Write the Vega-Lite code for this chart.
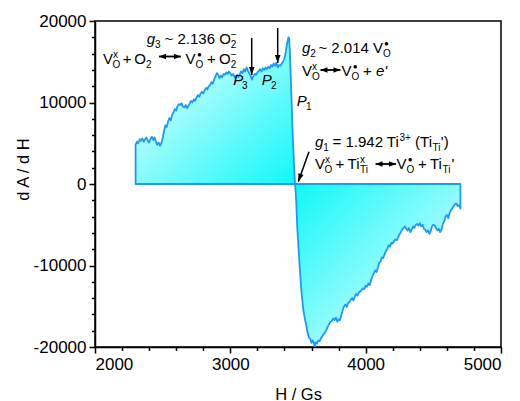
{
"$schema":"https://vega.github.io/schema/vega-lite/v6.json",
"width":406,"height":326,
"autosize":{"type":"none"},
"padding":{"left":95,"top":21,"right":19,"bottom":54},
"background":"white",
"config":{
 "view":{"stroke":"black","strokeWidth":1.5},
 "axis":{"domainColor":"black","domainWidth":1.5,"tickColor":"black","tickWidth":1.5,"grid":false,"labelOverlap":false,
  "labelFont":"Liberation Sans","labelFontSize":17,"labelColor":"black","labelPadding":3,
  "titleFont":"Liberation Sans","titleFontSize":16.5,"titleFontWeight":"normal","titleColor":"black"},
 "text":{"font":"Liberation Sans","color":"black","align":"left","baseline":"alphabetic"}
},
"resolve":{"axis":{"x":"independent","y":"independent"}},
"datasets":{
 "curve":[
  {"H":2300,"dAdH":4800},{"H":2310,"dAdH":5200},{"H":2320,"dAdH":5000},{"H":2330,"dAdH":5500},{"H":2340,"dAdH":5300},
  {"H":2350,"dAdH":5600},{"H":2360,"dAdH":5200},{"H":2370,"dAdH":5500},{"H":2380,"dAdH":5700},{"H":2390,"dAdH":5300},
  {"H":2400,"dAdH":5100},{"H":2410,"dAdH":5500},{"H":2420,"dAdH":5800},{"H":2430,"dAdH":5400},{"H":2440,"dAdH":5700},
  {"H":2450,"dAdH":5200},{"H":2460,"dAdH":4800},{"H":2470,"dAdH":5100},{"H":2480,"dAdH":4700},{"H":2490,"dAdH":5000},
  {"H":2500,"dAdH":5600},{"H":2510,"dAdH":6500},{"H":2520,"dAdH":7200},{"H":2530,"dAdH":7000},{"H":2540,"dAdH":7700},
  {"H":2550,"dAdH":8100},{"H":2560,"dAdH":7800},{"H":2570,"dAdH":8500},{"H":2580,"dAdH":8800},{"H":2590,"dAdH":9200},
  {"H":2600,"dAdH":9000},{"H":2610,"dAdH":9600},{"H":2620,"dAdH":9800},{"H":2630,"dAdH":9700},{"H":2640,"dAdH":9900},
  {"H":2650,"dAdH":9500},{"H":2660,"dAdH":9400},{"H":2670,"dAdH":9700},{"H":2680,"dAdH":9300},{"H":2690,"dAdH":9600},
  {"H":2700,"dAdH":9900},{"H":2710,"dAdH":10200},{"H":2720,"dAdH":10000},{"H":2730,"dAdH":10400},{"H":2740,"dAdH":10200},
  {"H":2750,"dAdH":10600},{"H":2760,"dAdH":10900},{"H":2770,"dAdH":10700},{"H":2780,"dAdH":11100},{"H":2790,"dAdH":11300},
  {"H":2800,"dAdH":11100},{"H":2810,"dAdH":11500},{"H":2820,"dAdH":11800},{"H":2830,"dAdH":11600},{"H":2840,"dAdH":12000},
  {"H":2850,"dAdH":12100},{"H":2860,"dAdH":12500},{"H":2870,"dAdH":12300},{"H":2880,"dAdH":12800},{"H":2890,"dAdH":13200},
  {"H":2900,"dAdH":13600},{"H":2910,"dAdH":13400},{"H":2920,"dAdH":13000},{"H":2930,"dAdH":13300},{"H":2940,"dAdH":13100},
  {"H":2950,"dAdH":13500},{"H":2960,"dAdH":13400},{"H":2970,"dAdH":13700},{"H":2980,"dAdH":13500},{"H":2990,"dAdH":13800},
  {"H":3000,"dAdH":13600},{"H":3010,"dAdH":13300},{"H":3020,"dAdH":13500},{"H":3030,"dAdH":13200},{"H":3040,"dAdH":13000},
  {"H":3050,"dAdH":13400},{"H":3060,"dAdH":13100},{"H":3070,"dAdH":13500},{"H":3080,"dAdH":13800},{"H":3090,"dAdH":13600},
  {"H":3100,"dAdH":14100},{"H":3110,"dAdH":13800},{"H":3120,"dAdH":14300},{"H":3130,"dAdH":13900},{"H":3140,"dAdH":13600},
  {"H":3150,"dAdH":13300},{"H":3160,"dAdH":12800},{"H":3170,"dAdH":13200},{"H":3180,"dAdH":13500},{"H":3190,"dAdH":13400},
  {"H":3200,"dAdH":13700},{"H":3210,"dAdH":13900},{"H":3220,"dAdH":14100},{"H":3230,"dAdH":13800},{"H":3240,"dAdH":14200},
  {"H":3250,"dAdH":14000},{"H":3260,"dAdH":14300},{"H":3270,"dAdH":14100},{"H":3280,"dAdH":14400},{"H":3290,"dAdH":14200},
  {"H":3300,"dAdH":14600},{"H":3310,"dAdH":14400},{"H":3320,"dAdH":14800},{"H":3330,"dAdH":14500},{"H":3340,"dAdH":14900},
  {"H":3350,"dAdH":14300},{"H":3360,"dAdH":14600},{"H":3370,"dAdH":14500},{"H":3380,"dAdH":14800},{"H":3390,"dAdH":15000},
  {"H":3400,"dAdH":15400},{"H":3410,"dAdH":16200},{"H":3420,"dAdH":17300},{"H":3430,"dAdH":18000},{"H":3435,"dAdH":17800},
  {"H":3440,"dAdH":16200},{"H":3450,"dAdH":11500},{"H":3460,"dAdH":6500},{"H":3470,"dAdH":2500},{"H":3478,"dAdH":0},
  {"H":3485,"dAdH":-1500},{"H":3490,"dAdH":-3500},{"H":3495,"dAdH":-5500},{"H":3503,"dAdH":-7700},{"H":3510,"dAdH":-9500},
  {"H":3520,"dAdH":-12000},{"H":3527,"dAdH":-13500},{"H":3540,"dAdH":-15500},{"H":3552,"dAdH":-16700},{"H":3560,"dAdH":-17200},
  {"H":3570,"dAdH":-18200},{"H":3580,"dAdH":-18800},{"H":3590,"dAdH":-19000},{"H":3600,"dAdH":-19500},{"H":3610,"dAdH":-19200},
  {"H":3620,"dAdH":-19700},{"H":3625,"dAdH":-19900},{"H":3630,"dAdH":-19400},{"H":3640,"dAdH":-19600},{"H":3650,"dAdH":-19200},
  {"H":3660,"dAdH":-19300},{"H":3670,"dAdH":-18900},{"H":3680,"dAdH":-18700},{"H":3690,"dAdH":-18400},{"H":3700,"dAdH":-18200},
  {"H":3710,"dAdH":-17900},{"H":3720,"dAdH":-17500},{"H":3730,"dAdH":-17200},{"H":3740,"dAdH":-16900},{"H":3750,"dAdH":-16800},
  {"H":3760,"dAdH":-16500},{"H":3770,"dAdH":-16700},{"H":3780,"dAdH":-16400},{"H":3790,"dAdH":-16900},{"H":3800,"dAdH":-16600},
  {"H":3810,"dAdH":-16700},{"H":3820,"dAdH":-16100},{"H":3830,"dAdH":-15500},{"H":3840,"dAdH":-15000},{"H":3850,"dAdH":-14800},
  {"H":3860,"dAdH":-15100},{"H":3870,"dAdH":-14600},{"H":3880,"dAdH":-14500},{"H":3890,"dAdH":-14200},{"H":3900,"dAdH":-14000},
  {"H":3910,"dAdH":-14300},{"H":3920,"dAdH":-13800},{"H":3930,"dAdH":-13500},{"H":3940,"dAdH":-13700},{"H":3950,"dAdH":-13300},
  {"H":3960,"dAdH":-13200},{"H":3970,"dAdH":-13000},{"H":3980,"dAdH":-12800},{"H":3990,"dAdH":-12900},{"H":4000,"dAdH":-12500},
  {"H":4010,"dAdH":-12600},{"H":4020,"dAdH":-12200},{"H":4030,"dAdH":-12400},{"H":4040,"dAdH":-11800},{"H":4050,"dAdH":-11300},
  {"H":4060,"dAdH":-11000},{"H":4070,"dAdH":-10600},{"H":4080,"dAdH":-10800},{"H":4090,"dAdH":-10300},{"H":4100,"dAdH":-9700},
  {"H":4110,"dAdH":-9500},{"H":4120,"dAdH":-9000},{"H":4130,"dAdH":-9100},{"H":4140,"dAdH":-8600},{"H":4150,"dAdH":-8200},
  {"H":4160,"dAdH":-8000},{"H":4170,"dAdH":-7500},{"H":4180,"dAdH":-7700},{"H":4190,"dAdH":-7200},{"H":4200,"dAdH":-7300},
  {"H":4210,"dAdH":-7000},{"H":4220,"dAdH":-6800},{"H":4230,"dAdH":-6900},{"H":4240,"dAdH":-6500},{"H":4250,"dAdH":-6200},
  {"H":4260,"dAdH":-5900},{"H":4270,"dAdH":-5600},{"H":4280,"dAdH":-5400},{"H":4290,"dAdH":-5200},{"H":4300,"dAdH":-5500},
  {"H":4310,"dAdH":-5700},{"H":4320,"dAdH":-5400},{"H":4330,"dAdH":-5900},{"H":4340,"dAdH":-5600},{"H":4350,"dAdH":-5200},
  {"H":4360,"dAdH":-5400},{"H":4370,"dAdH":-5000},{"H":4380,"dAdH":-4900},{"H":4390,"dAdH":-5100},{"H":4400,"dAdH":-4800},
  {"H":4410,"dAdH":-5200},{"H":4420,"dAdH":-5000},{"H":4430,"dAdH":-5500},{"H":4440,"dAdH":-5600},{"H":4450,"dAdH":-5900},
  {"H":4460,"dAdH":-5700},{"H":4470,"dAdH":-6100},{"H":4480,"dAdH":-5800},{"H":4490,"dAdH":-5200},{"H":4500,"dAdH":-5000},
  {"H":4510,"dAdH":-5100},{"H":4520,"dAdH":-5400},{"H":4530,"dAdH":-5700},{"H":4540,"dAdH":-5500},{"H":4550,"dAdH":-5900},
  {"H":4560,"dAdH":-5600},{"H":4570,"dAdH":-4900},{"H":4580,"dAdH":-4600},{"H":4590,"dAdH":-4000},{"H":4600,"dAdH":-3800},
  {"H":4610,"dAdH":-4200},{"H":4620,"dAdH":-3600},{"H":4630,"dAdH":-3200},{"H":4640,"dAdH":-3000},{"H":4650,"dAdH":-2700},
  {"H":4660,"dAdH":-2500},{"H":4670,"dAdH":-2400},{"H":4680,"dAdH":-2700},{"H":4690,"dAdH":-2600},{"H":4700,"dAdH":-3000}
 ],
 "txt":[
  {"x":2382,"y":17239,"t":"g","k":"i"},
  {"x":2443,"y":17239,"t":"3","k":"b"},
  {"x":2514,"y":17239,"t":"~ 2.136 O","k":"n"},
  {"x":3003,"y":17239,"t":"2","k":"b"},
  {"x":3003,"y":17239,"t":"−","k":"p"},
  {"x":2059,"y":14785,"t":"V","k":"n"},
  {"x":2133,"y":14785,"t":"x","k":"p"},
  {"x":2129,"y":14785,"t":"O","k":"b"},
  {"x":2205,"y":14785,"t":"+","k":"n"},
  {"x":2290,"y":14785,"t":"O","k":"n"},
  {"x":2377,"y":14785,"t":"2","k":"b"},
  {"x":2669,"y":14785,"t":"V","k":"n"},
  {"x":2753,"y":14785,"t":"●","k":"d"},
  {"x":2743,"y":14785,"t":"O","k":"b"},
  {"x":2828,"y":14785,"t":"+","k":"n"},
  {"x":2916,"y":14785,"t":"O","k":"n"},
  {"x":3003,"y":14785,"t":"2","k":"b"},
  {"x":3003,"y":14785,"t":"−","k":"p"},
  {"x":3530,"y":16074,"t":"g","k":"i"},
  {"x":3591,"y":16074,"t":"2","k":"b"},
  {"x":3651,"y":16074,"t":"~ 2.014 V","k":"n"},
  {"x":4136,"y":16074,"t":"●","k":"d"},
  {"x":4128,"y":16074,"t":"O","k":"b"},
  {"x":3530,"y":13252,"t":"V","k":"n"},
  {"x":3603,"y":13252,"t":"x","k":"p"},
  {"x":3603,"y":13252,"t":"O","k":"b"},
  {"x":3821,"y":13252,"t":"V","k":"n"},
  {"x":3905,"y":13252,"t":"●","k":"d"},
  {"x":3895,"y":13252,"t":"O","k":"b"},
  {"x":3980,"y":13252,"t":"+","k":"n"},
  {"x":4076,"y":13252,"t":"e'","k":"i"},
  {"x":3626,"y":4577,"t":"g","k":"i"},
  {"x":3687,"y":4577,"t":"1","k":"b"},
  {"x":3755,"y":4577,"t":"= 1.942 Ti","k":"n"},
  {"x":4250,"y":4577,"t":"3+","k":"p"},
  {"x":4365,"y":4577,"t":"(Ti","k":"n"},
  {"x":4494,"y":4577,"t":"Ti","k":"b"},
  {"x":4555,"y":4577,"t":"')","k":"n"},
  {"x":3626,"y":1840,"t":"V","k":"n"},
  {"x":3700,"y":1840,"t":"x","k":"p"},
  {"x":3696,"y":1840,"t":"O","k":"b"},
  {"x":3777,"y":1840,"t":"+","k":"n"},
  {"x":3866,"y":1840,"t":"Ti","k":"n"},
  {"x":3958,"y":1840,"t":"x","k":"p"},
  {"x":3958,"y":1840,"t":"Ti","k":"b"},
  {"x":4228,"y":1840,"t":"V","k":"n"},
  {"x":4311,"y":1840,"t":"●","k":"d"},
  {"x":4302,"y":1840,"t":"O","k":"b"},
  {"x":4387,"y":1840,"t":"+","k":"n"},
  {"x":4475,"y":1840,"t":"Ti","k":"n"},
  {"x":4568,"y":1840,"t":"Ti","k":"b"},
  {"x":4634,"y":1840,"t":"'","k":"n"},
  {"x":3022,"y":12147,"t":"P","k":"i"},
  {"x":3086,"y":12147,"t":"3","k":"b"},
  {"x":3232,"y":12147,"t":"P","k":"i"},
  {"x":3300,"y":12147,"t":"2","k":"b"},
  {"x":3490,"y":9571,"t":"P","k":"i"},
  {"x":3559,"y":9571,"t":"1","k":"b"}
 ],
 "arr":[
  {"x":3158,"y":17914,"x2":3158,"y2":13374,"d":"v"},
  {"x":3350,"y":19141,"x2":3350,"y2":14847,"d":"v"},
  {"x":3581,"y":3963,"x2":3502,"y2":282,"d":"s"}
 ],
 "darr":[
  {"x":2473,"x2":2635,"y":15644},
  {"x":3666,"x2":3814,"y":13988},
  {"x":4073,"x2":4224,"y":2454}
 ]
},
"layer":[
 {"data":{"name":"curve"},"transform":[{"filter":"datum.H <= 3478"}],
  "mark":{"type":"area","stroke":"#1E9BF0","strokeWidth":1.8,"strokeJoin":"round",
   "fill":{"gradient":"linear","x1":0,"y1":0,"x2":1,"y2":1,"stops":[{"offset":0,"color":"#ffffff"},{"offset":1,"color":"#10f8f8"}]}},
  "encoding":{
   "x":{"field":"H","type":"quantitative","scale":{"domain":[2000,5000],"nice":false},
    "axis":{"title":"H / Gs","titlePadding":14,"orient":"bottom","values":[2000,3000,4000,5000],"format":"d","tickSize":6}},
   "y":{"field":"dAdH","type":"quantitative","scale":{"domain":[-20000,20000],"nice":false},
    "axis":{"title":"d A / d H","orient":"left","titleX":-64,"titleY":148,"values":[-20000,-10000,0,10000,20000],
     "labelExpr":"toString(datum.value)","tickSize":6}}
  }},
 {"data":{"name":"curve"},"transform":[{"filter":"datum.H >= 3478"}],
  "mark":{"type":"area","stroke":"#1E9BF0","strokeWidth":1.8,"strokeJoin":"round",
   "fill":{"gradient":"linear","x1":0,"y1":0,"x2":1,"y2":1,"stops":[{"offset":0,"color":"#10f8f8"},{"offset":1,"color":"#ffffff"}]}},
  "encoding":{
   "x":{"field":"H","type":"quantitative","scale":{"domain":[2000,5000],"nice":false},
    "axis":{"title":null,"orient":"bottom","labels":false,"domain":false,"tickSize":3.5,
     "values":[2200,2400,2600,2800,3200,3400,3600,3800,4200,4400,4600,4800]}},
   "y":{"field":"dAdH","type":"quantitative","scale":{"domain":[-20000,20000],"nice":false},
    "axis":{"title":null,"orient":"left","labels":false,"domain":false,"tickSize":3.5,
     "values":[-18000,-16000,-14000,-12000,-8000,-6000,-4000,-2000,2000,4000,6000,8000,12000,14000,16000,18000]}}
  }},
 {"data":{"name":"arr"},"mark":{"type":"rule","color":"black","strokeWidth":1.5},
  "encoding":{
   "x":{"field":"x","type":"quantitative","scale":{"domain":[2000,5000],"nice":false},"axis":null},
   "y":{"field":"y","type":"quantitative","scale":{"domain":[-20000,20000],"nice":false},"axis":null},
   "x2":{"field":"x2"},"y2":{"field":"y2"}}},
 {"data":{"name":"arr"},"transform":[{"filter":"datum.d == 'v'"}],
  "mark":{"type":"point","shape":"M0,0L-0.7,-2L0.7,-2Z","filled":true,"color":"black","size":64,"opacity":1,"strokeWidth":0},
  "encoding":{
   "x":{"field":"x2","type":"quantitative","scale":{"domain":[2000,5000],"nice":false},"axis":null},
   "y":{"field":"y2","type":"quantitative","scale":{"domain":[-20000,20000],"nice":false},"axis":null}}},
 {"data":{"name":"arr"},"transform":[{"filter":"datum.d == 's'"}],
  "mark":{"type":"point","shape":"M0,0L-0.7,-2L0.7,-2Z","filled":true,"color":"black","size":64,"opacity":1,"strokeWidth":0,"angle":19},
  "encoding":{
   "x":{"field":"x2","type":"quantitative","scale":{"domain":[2000,5000],"nice":false},"axis":null},
   "y":{"field":"y2","type":"quantitative","scale":{"domain":[-20000,20000],"nice":false},"axis":null}}},
 {"data":{"name":"darr"},"mark":{"type":"rule","color":"black","strokeWidth":1.8},
  "encoding":{
   "x":{"field":"x","type":"quantitative","scale":{"domain":[2000,5000],"nice":false},"axis":null},
   "y":{"field":"y","type":"quantitative","scale":{"domain":[-20000,20000],"nice":false},"axis":null},
   "x2":{"field":"x2"}}},
 {"data":{"name":"darr"},
  "mark":{"type":"point","shape":"M0,0L2,-0.8L2,0.8Z","filled":true,"color":"black","size":49,"opacity":1,"strokeWidth":0},
  "encoding":{
   "x":{"field":"x","type":"quantitative","scale":{"domain":[2000,5000],"nice":false},"axis":null},
   "y":{"field":"y","type":"quantitative","scale":{"domain":[-20000,20000],"nice":false},"axis":null}}},
 {"data":{"name":"darr"},
  "mark":{"type":"point","shape":"M0,0L-2,-0.8L-2,0.8Z","filled":true,"color":"black","size":49,"opacity":1,"strokeWidth":0},
  "encoding":{
   "x":{"field":"x2","type":"quantitative","scale":{"domain":[2000,5000],"nice":false},"axis":null},
   "y":{"field":"y","type":"quantitative","scale":{"domain":[-20000,20000],"nice":false},"axis":null}}},
 {"data":{"name":"txt"},"transform":[{"filter":"datum.k == 'n'"}],
  "mark":{"type":"text","fontSize":15},
  "encoding":{
   "x":{"field":"x","type":"quantitative","scale":{"domain":[2000,5000],"nice":false},"axis":null},
   "y":{"field":"y","type":"quantitative","scale":{"domain":[-20000,20000],"nice":false},"axis":null},
   "text":{"field":"t"}}},
 {"data":{"name":"txt"},"transform":[{"filter":"datum.k == 'i'"}],
  "mark":{"type":"text","fontSize":15,"fontStyle":"italic"},
  "encoding":{
   "x":{"field":"x","type":"quantitative","scale":{"domain":[2000,5000],"nice":false},"axis":null},
   "y":{"field":"y","type":"quantitative","scale":{"domain":[-20000,20000],"nice":false},"axis":null},
   "text":{"field":"t"}}},
 {"data":{"name":"txt"},"transform":[{"filter":"datum.k == 'b'"}],
  "mark":{"type":"text","fontSize":10,"dy":4},
  "encoding":{
   "x":{"field":"x","type":"quantitative","scale":{"domain":[2000,5000],"nice":false},"axis":null},
   "y":{"field":"y","type":"quantitative","scale":{"domain":[-20000,20000],"nice":false},"axis":null},
   "text":{"field":"t"}}},
 {"data":{"name":"txt"},"transform":[{"filter":"datum.k == 'p'"}],
  "mark":{"type":"text","fontSize":10,"dy":-6},
  "encoding":{
   "x":{"field":"x","type":"quantitative","scale":{"domain":[2000,5000],"nice":false},"axis":null},
   "y":{"field":"y","type":"quantitative","scale":{"domain":[-20000,20000],"nice":false},"axis":null},
   "text":{"field":"t"}}},
 {"data":{"name":"txt"},"transform":[{"filter":"datum.k == 'd'"}],
  "mark":{"type":"text","fontSize":8,"dy":-7},
  "encoding":{
   "x":{"field":"x","type":"quantitative","scale":{"domain":[2000,5000],"nice":false},"axis":null},
   "y":{"field":"y","type":"quantitative","scale":{"domain":[-20000,20000],"nice":false},"axis":null},
   "text":{"field":"t"}}}
]
}
